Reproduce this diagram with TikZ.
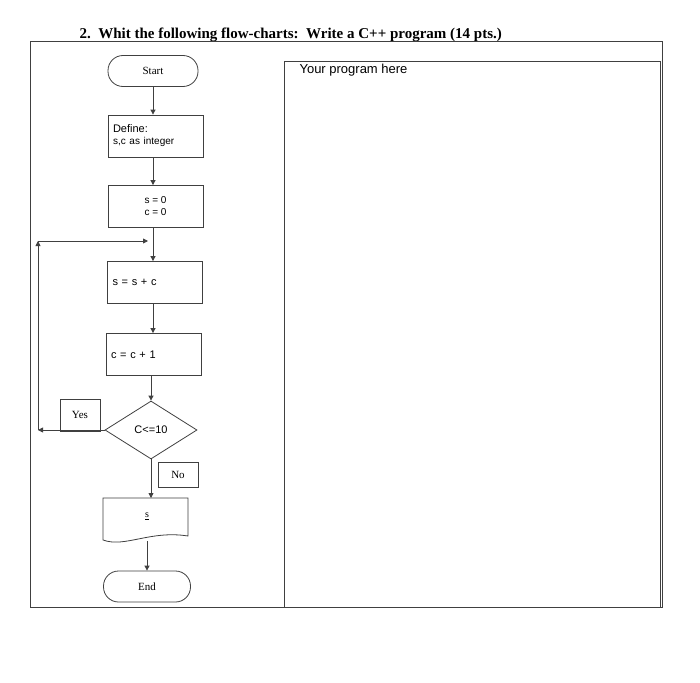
\documentclass[tikz,border=0pt]{standalone}
\usepackage{fontspec}
\setmainfont{Liberation Serif}
\newfontfamily\sansf{Liberation Sans}
\usetikzlibrary{shapes.geometric,arrows.meta}
\begin{document}
\begin{tikzpicture}[x=1pt,y=-1pt,
  ln/.style={draw=black!75,line width=0.8pt},
  arr/.style={ln,-{Triangle[length=5pt,width=5pt]}},
  boxs/.style={ln,minimum width=95pt,minimum height=42pt,font=\sansf\fontsize{11}{13}\selectfont},
  term/.style={ln,rounded corners=15pt,minimum width=90pt,minimum height=31pt,font=\fontsize{11}{13}\selectfont},
  lab/.style={ln,font=\fontsize{11}{13}\selectfont}]
\useasboundingbox[fill=white] (0,0) rectangle (700,682);
\node[font=\bfseries\fontsize{15}{17}\selectfont,anchor=west] (title) at (76,35) {2.\ \ Whit the following flow-charts:\ \ Write a C++ program (14 pts.)};
\draw[ln] (30,41) rectangle (662,607);
\draw[ln] (284,61) rectangle (660,607);
\node[font=\sansf\fontsize{13}{15}\selectfont,anchor=west] (prog) at (296,70) {Your program here};
\node[term] (start) at (153,71) {Start};
\node[boxs,align=left,text width=85pt] (def) at (155.5,136) {Define:\\[-1pt]{\fontsize{10}{12}\selectfont s,c as integer}};
\node[boxs,align=center,font=\sansf\fontsize{10}{12}\selectfont] (init) at (155.5,206.5) {s = 0\\c = 0};
\node[boxs,align=left,text width=85pt] (sum) at (155,282.5) {s = s + c};
\node[boxs,align=left,text width=85pt] (inc) at (153.5,354.5) {c = c + 1};
\node[diamond,ln,minimum width=92pt,minimum height=58pt,inner sep=0pt,font=\sansf\fontsize{11}{13}\selectfont] (dec) at (151,430) {C<=10};
\node[lab,minimum width=40pt,minimum height=32pt] (yes) at (80,415) {Yes};
\node[lab,minimum width=40pt,minimum height=25pt] (no) at (178,474.5) {No};
\draw[ln] (103,532) -- (103,498) -- (188,498) -- (188,536) .. controls (150,530) and (125,548) .. (103,540) -- cycle;
\node (out) at (147,516) {\underline{s}};
\coordinate (outtop) at (151,498);
\coordinate (outbot) at (147,541);
\node[term,minimum width=87pt] (end) at (147,586.5) {End};
\coordinate (L1) at (38,430);
\coordinate (L2) at (38,241);
\draw[arr] (start.south) -- (start.south |- def.north);
\draw[arr] (def.south -| start.south) -- (start.south |- init.north);
\draw[arr] (init.south -| start.south) -- (start.south |- sum.north);
\draw[arr] (sum.south -| start.south) -- (start.south |- inc.north);
\draw[arr] (inc.south -| dec.north) -- (dec.north);
\draw[arr] (dec.south) -- (outtop);
\draw[arr] (outbot) -- (end.north);
\draw[arr] (dec.west) -- (L1);
\draw[arr] (L1) -- (L2);
\draw[arr] (L2) -- (148,241);
\end{tikzpicture}
\end{document}
